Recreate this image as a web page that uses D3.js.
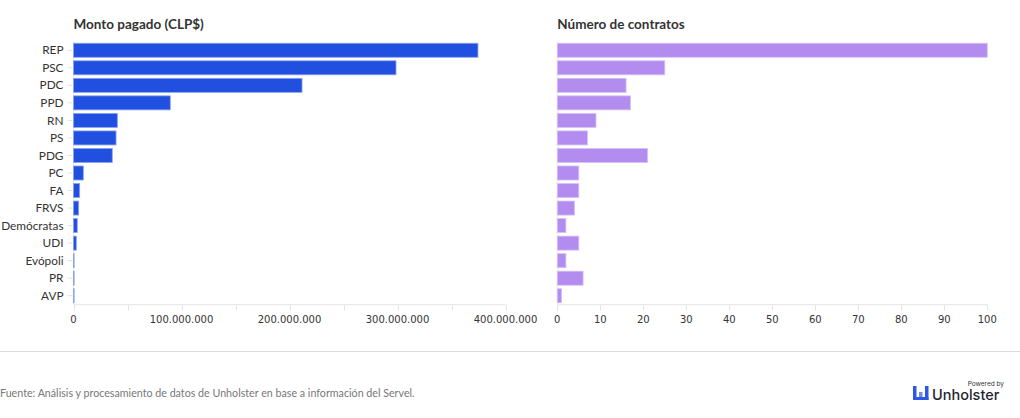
<!DOCTYPE html>
<html>
<head>
<meta charset="utf-8">
<script src="https://cdn.jsdelivr.net/npm/d3@7"></script>
<style>
  html, body { margin: 0; padding: 0; background: #fff; }
  svg { display: block; }
</style>
</head>
<body>
<svg id="chart" width="1020" height="418"></svg>
<script>
const categories = ["REP","PSC","PDC","PPD","RN","PS","PDG","PC","FA","FRVS","Demócratas","UDI","Evópoli","PR","AVP"];
const montoPagado = [374500000, 298600000, 211600000, 89600000, 40600000, 39400000, 35900000, 9100000, 5700000, 4800000, 3500000, 2600000, 500000, 400000, 300000];
const numeroContratos = [100, 25, 16, 17, 9, 7, 21, 5, 5, 4, 2, 5, 2, 6, 1];
const montoTicks = [0, 100000000, 200000000, 300000000, 400000000];
const montoMinorTicks = [0, 50000000, 100000000, 150000000, 200000000, 250000000, 300000000, 350000000, 400000000];
const contratosTicks = [0, 10, 20, 30, 40, 50, 60, 70, 80, 90, 100];
const titles = ["Monto pagado (CLP$)", "Número de contratos"];
const footerText = "Fuente: Análisis y procesamiento de datos de Unholster en base a información del Servel.";

const svg = d3.select("#chart");
const plotTop = 41.5, plotBottom = 304.5;

const y = d3.scaleBand().domain(categories).range([plotTop, plotBottom]).paddingInner(0.2).paddingOuter(0.1);

const fmt = d3.formatLocale({decimal: ",", thousands: ".", grouping: [3], currency: ["$", ""]}).format(",.0f");

function panel(x0, x1, values, domainMax, ticks, minorTicks, title, fill, stroke, showLabels) {
  const x = d3.scaleLinear().domain([0, domainMax]).range([x0, x1]);
  const g = svg.append("g");

  g.append("text").attr("x", x0).attr("y", 29)
    .attr("font-family", "Lato, 'Open Sans', sans-serif").attr("font-weight", 700)
    .attr("font-size", 13.5).attr("fill", "#333").text(title);

  g.append("line").attr("x1", x0).attr("x2", x1).attr("y1", plotBottom + 0.2).attr("y2", plotBottom + 0.2)
    .attr("stroke", "#e6e6e6").attr("stroke-width", 1);
  g.append("line").attr("x1", x0).attr("x2", x0).attr("y1", plotTop).attr("y2", plotBottom)
    .attr("stroke", "#ececec").attr("stroke-width", 1);

  g.selectAll("line.mt").data(minorTicks).enter().append("line").attr("class", "mt")
    .attr("x1", d => Math.round(x(d)) + 0.5).attr("x2", d => Math.round(x(d)) + 0.5)
    .attr("y1", plotBottom).attr("y2", plotBottom + 6)
    .attr("stroke", "#e6e6e6");

  g.selectAll("text.tl").data(ticks).enter().append("text").attr("class", "tl")
    .attr("x", d => x(d)).attr("y", 323)
    .attr("text-anchor", "middle")
    .attr("font-family", "'DejaVu Sans', sans-serif").attr("font-size", 10)
    .attr("fill", "#333").text(d => fmt(d));

  if (showLabels) {
    g.selectAll("line.ct").data(categories).enter().append("line").attr("class", "ct")
      .attr("x1", x0 - 6).attr("x2", x0 - 1)
      .attr("y1", d => y(d) + y.bandwidth() / 2).attr("y2", d => y(d) + y.bandwidth() / 2)
      .attr("stroke", "#e0e0e0");
    g.selectAll("text.cl").data(categories).enter().append("text").attr("class", "cl")
      .attr("x", x0 - 10).attr("y", d => y(d) + y.bandwidth() / 2)
      .attr("dy", "0.35em").attr("text-anchor", "end")
      .attr("font-family", "Lato, 'Open Sans', sans-serif").attr("font-size", 11.8)
      .attr("fill", "#333").text(d => d);
  }

  g.selectAll("rect.bar").data(categories).enter().append("rect").attr("class", "bar")
    .attr("x", x0)
    .attr("y", d => y(d))
    .attr("width", (d, i) => Math.max(0.6, x(values[i]) - x0))
    .attr("height", y.bandwidth())
    .attr("fill", fill)
    .attr("stroke", stroke).attr("stroke-width", 0.8);
}

panel(73.5, 505.5, montoPagado, 400000000, montoTicks, montoMinorTicks, titles[0], "#2150e0", "#8aa3f0", true);
panel(557.3, 987.3, numeroContratos, 100, contratosTicks, contratosTicks, titles[1], "#b38cef", "#d6c1f7", false);

svg.append("line").attr("x1", 0).attr("x2", 1020).attr("y1", 351.5).attr("y2", 351.5)
  .attr("stroke", "#dcdcdc").attr("stroke-width", 1);

svg.append("text").attr("x", 0).attr("y", 397)
  .attr("font-family", "Lato, 'Open Sans', sans-serif").attr("font-size", 10.7)
  .attr("fill", "#777").text(footerText);

const logo = svg.append("g");
logo.append("text").attr("x", 1004).attr("y", 386).attr("text-anchor", "end")
  .attr("font-family", "Inter, 'Open Sans', sans-serif").attr("font-size", 6.5).attr("fill", "#333").text("Powered by");
logo.append("text").attr("x", 932).attr("y", 400)
  .attr("font-family", "Inter, 'Open Sans', sans-serif").attr("font-size", 14.5).attr("font-weight", 500)
  .attr("fill", "#1f2430").text("Unholster");
logo.append("rect").attr("x", 913).attr("y", 386).attr("width", 3.5).attr("height", 14).attr("fill", "#3056e6");
logo.append("rect").attr("x", 919).attr("y", 392).attr("width", 3.5).attr("height", 8).attr("fill", "#6f8cf0");
logo.append("rect").attr("x", 925).attr("y", 386).attr("width", 3.5).attr("height", 14).attr("fill", "#3056e6");
logo.append("rect").attr("x", 913).attr("y", 397).attr("width", 15.5).attr("height", 3).attr("fill", "#3056e6");
</script>
</body>
</html>
